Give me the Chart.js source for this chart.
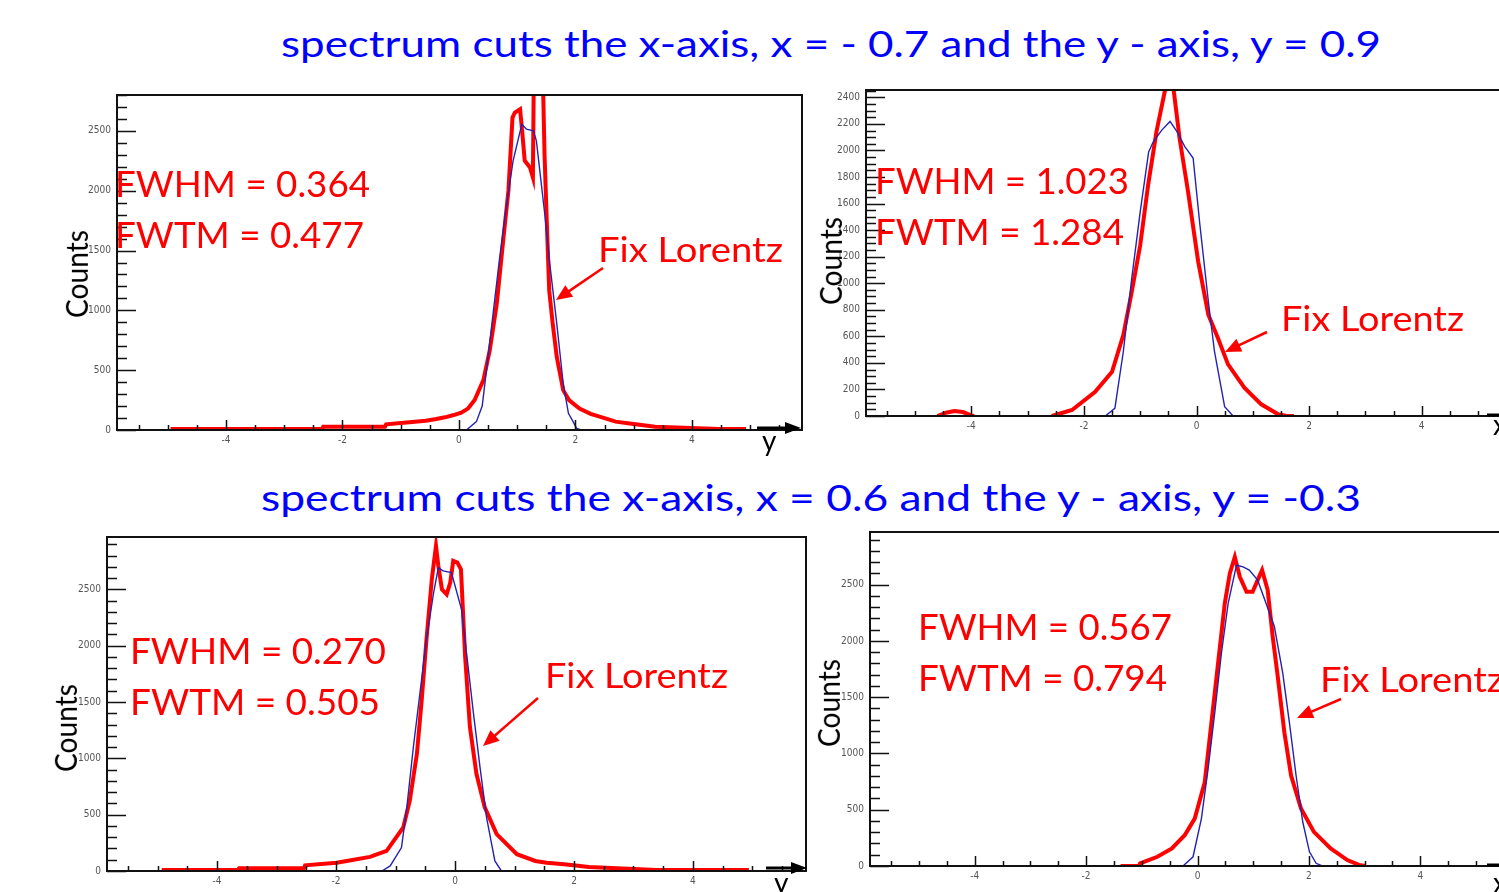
<!DOCTYPE html>
<html><head><meta charset="utf-8">
<script src="https://cdn.jsdelivr.net/npm/chart.js@4.4.1/dist/chart.umd.min.js"></script>
<style>
html,body{margin:0;padding:0;background:#fff;}
body{width:1499px;height:892px;overflow:hidden;position:relative;}
canvas{position:absolute;}
.t{position:absolute;white-space:nowrap;line-height:1;transform-origin:0 0;font-family:Lato,'Open Sans',sans-serif;}
#ov{position:absolute;left:0;top:0;}
</style></head><body>
<svg id="ov" width="1499" height="892" xmlns="http://www.w3.org/2000/svg"></svg>
<script>
// ---------------- DATA ----------------
const title1 = 'spectrum cuts the x-axis, x = - 0.7 and the y - axis, y = 0.9';
const title2 = 'spectrum cuts the x-axis, x =  0.6 and the y - axis, y = -0.3';
const yAxisTitle = 'Counts';
const fitLabel = 'Fix Lorentz';
const p1Notes = ['FWHM = 0.364', 'FWTM = 0.477'];
const p2Notes = ['FWHM = 1.023', 'FWTM = 1.284'];
const p3Notes = ['FWHM = 0.270', 'FWTM = 0.505'];
const p4Notes = ['FWHM = 0.567', 'FWTM = 0.794'];
const xTitles = ['y', 'x', 'y', 'x'];
const xMajorTicks = [-4, -2, 0, 2, 4];

// Panel 1 (top-left)
const p1RedX = [-4.95,-2.35,-2.33,-1.27,-1.25,-0.85,-0.57,-0.39,-0.24,-0.09,0.04,0.16,0.27,0.42,0.53,0.65,0.76,0.85,0.92,0.96,1.05,1.08,1.13,1.22,1.27,1.29,1.43,1.47,1.51,1.55,1.61,1.68,1.79,1.89,2.07,2.26,2.50,2.69,3.00,3.37,4.47,4.93];
const p1RedY = [8,8,27,27,47,64,78,92,106,125,145,181,250,417,667,1056,1583,2000,2611,2653,2681,2528,2250,2194,2111,3200,3200,2300,1722,1167,889,611,333,250,180,135,100,70,50,28,8,8];
const p1BlueX = [-2.33,0.13,0.30,0.40,0.50,0.70,0.82,0.93,1.08,1.16,1.28,1.33,1.48,1.56,1.68,1.79,1.88,1.96,2.02,2.10,4.47];
const p1BlueY = [0,0,70,200,611,1444,1889,2250,2556,2514,2500,2417,1778,1389,889,389,139,70,14,0,0];

// Panel 2 (top-right)
const p2RedX = [-4.60,-4.45,-4.30,-4.15,-4.00,-3.95,-3.30,-2.57,-2.21,-1.80,-1.50,-1.30,-1.15,-1.00,-0.86,-0.71,-0.56,-0.50,-0.41,-0.30,-0.15,0.03,0.21,0.38,0.56,0.85,1.15,1.45,1.60,1.73];
const p2RedY = [0,25,38,30,5,0,null,0,45,183,333,609,935,1286,1737,2143,2451,2550,2470,2090,1689,1163,763,587,389,214,88,13,0,0];
const p2BlueX = [-4.83,-1.62,-1.45,-1.30,-1.15,-1.00,-0.85,-0.77,-0.62,-0.47,-0.35,-0.21,-0.06,0.06,0.21,0.32,0.50,0.65,4.94];
const p2BlueY = [0,0,58,484,1036,1537,1988,2063,2151,2218,2143,2030,1943,1440,864,484,70,0,0];

// Panel 3 (bottom-left)
const p3RedX = [-4.93,-3.65,-3.63,-2.54,-2.52,-1.99,-1.75,-1.43,-1.15,-0.87,-0.76,-0.64,-0.56,-0.48,-0.39,-0.32,-0.28,-0.22,-0.14,-0.08,-0.03,0.04,0.10,0.17,0.25,0.36,0.50,0.70,1.04,1.35,1.54,1.84,2.25,3.39,4.94];
const p3RedY = [8,8,24,24,50,74,95,125,179,387,625,1042,1518,2054,2589,2887,2708,2500,2455,2560,2753,2738,2678,1905,1280,863,565,327,149,89,74,60,36,8,8];
const p3BlueX = [-3.63,-1.23,-1.09,-0.90,-0.81,-0.70,-0.59,-0.48,-0.36,-0.28,-0.20,-0.06,0.11,0.20,0.31,0.42,0.53,0.67,0.78,3.34];
const p3BlueY = [0,0,45,208,565,1101,1577,2054,2470,2693,2664,2649,2321,1905,1399,922,476,89,0,0];

// Panel 4 (bottom-right)
const p4RedX = [-1.38,-1.05,-1.03,-0.72,-0.46,-0.23,-0.05,0.13,0.25,0.37,0.49,0.58,0.67,0.76,0.88,0.99,1.08,1.16,1.26,1.35,1.44,1.56,1.68,1.86,2.09,2.39,2.69,2.90,3.02];
const p4RedY = [0,0,24,82,156,274,421,744,1274,1804,2334,2599,2746,2570,2437,2437,2540,2629,2452,2040,1687,1186,804,509,303,156,53,10,0];
const p4BlueX = [-4.86,-0.26,-0.08,0.07,0.19,0.31,0.43,0.55,0.70,0.82,0.93,1.08,1.23,1.38,1.53,1.65,1.77,1.89,2.01,2.13,2.24,4.96];
const p4BlueY = [0,0,82,421,863,1363,1893,2334,2673,2658,2629,2540,2334,2128,1716,1274,804,391,126,24,0,0];

// ---------------- LAYOUT ----------------
const panels = [
  {box:{l:117,t:95,r:802,b:430}, xMin:-5.87, xMax:5.89, yMax:2800, yMinor:100, yMajor:500,
   redX:p1RedX, redY:p1RedY, blueX:p1BlueX, blueY:p1BlueY},
  {box:{l:866,t:90,r:1527,b:416}, xMin:-5.87, xMax:5.87, yMax:2455, yMinor:50, yMajor:200,
   redX:p2RedX, redY:p2RedY, blueX:p2BlueX, blueY:p2BlueY},
  {box:{l:107,t:537,r:806,b:871}, xMin:-5.85, xMax:5.90, yMax:2965, yMinor:100, yMajor:500,
   redX:p3RedX, redY:p3RedY, blueX:p3BlueX, blueY:p3BlueY},
  {box:{l:870,t:532,r:1525,b:866}, xMin:-5.88, xMax:5.88, yMax:2968, yMinor:100, yMajor:500,
   redX:p4RedX, redY:p4RedY, blueX:p4BlueX, blueY:p4BlueY}
];

const tickFont = {family:"'Liberation Sans Narrow','DejaVu Sans Condensed','Liberation Sans',sans-serif", size:10};

function pts(xs, ys){ return xs.map((x,i)=>({x:x, y:ys[i]})); }

function makePanel(cfg){
  const LP=60, TP=12, RP=12, BP=30;
  const W = cfg.box.r - cfg.box.l + LP + RP, H = cfg.box.b - cfg.box.t + TP + BP;
  const cv = document.createElement('canvas');
  cv.width=W; cv.height=H;
  cv.style.left=(cfg.box.l-LP)+'px'; cv.style.top=(cfg.box.t-TP)+'px';
  cv.style.width=W+'px'; cv.style.height=H+'px';
  document.body.insertBefore(cv, document.getElementById('ov'));
  const frame = {
    id:'frame'+cfg.box.l+cfg.box.t,
    afterDraw(chart){
      const {ctx, chartArea:a, scales:{x, y}} = chart;
      ctx.save();
      ctx.strokeStyle='#111'; ctx.lineWidth=1.5;
      ctx.beginPath();
      y.ticks.forEach(t=>{
        const py = Math.round(y.getPixelForValue(t.value))+0.5;
        const len = (Math.round(t.value) % cfg.yMajor === 0) ? 19 : 10;
        ctx.moveTo(a.left, py); ctx.lineTo(a.left+len, py);
      });
      x.ticks.forEach(t=>{
        const px = Math.round(x.getPixelForValue(t.value))+0.5;
        const k = Math.round(t.value*2);
        const len = (k % 4 === 0) ? 10 : 5;
        ctx.moveTo(px, a.bottom); ctx.lineTo(px, a.bottom-len);
      });
      ctx.stroke();
      ctx.lineWidth=2;
      ctx.strokeRect(a.left, a.top, a.right-a.left, a.bottom-a.top);
      ctx.restore();
    }
  };
  new Chart(cv, {
    type:'line',
    data:{datasets:[
      {data:pts(cfg.blueX,cfg.blueY), borderColor:'#2323b0', borderWidth:1.4, pointRadius:0, tension:0, spanGaps:false, order:0},
      {data:pts(cfg.redX,cfg.redY), borderColor:'#ff0000', borderWidth:4, pointRadius:0, tension:0, spanGaps:false, order:1}
    ]},
    options:{
      responsive:false, animation:false, devicePixelRatio:1,
      layout:{padding:{left:0, top:TP, right:RP, bottom:0}, autoPadding:false},
      plugins:{legend:{display:false}, tooltip:{enabled:false}, title:{display:false}},
      scales:{
        x:{type:'linear', min:cfg.xMin, max:cfg.xMax,
           grid:{display:false, drawTicks:false}, border:{display:false},
           afterBuildTicks:(s)=>{ const arr=[]; for(let k=Math.ceil(cfg.xMin*2); k<=Math.floor(cfg.xMax*2); k++) arr.push({value:k/2}); s.ticks=arr; },
           ticks:{autoSkip:false, maxRotation:0, minRotation:0, padding:4, font:tickFont, color:'#555',
                  callback:(v)=> xMajorTicks.includes(v) ? String(v) : ''},
           afterFit:(s)=>{ s.height=BP; }},
        y:{type:'linear', min:0, max:cfg.yMax,
           grid:{display:false, drawTicks:false}, border:{display:false},
           afterBuildTicks:(s)=>{ const arr=[]; for(let v=0; v<=cfg.yMax; v+=cfg.yMinor) arr.push({value:v}); s.ticks=arr; },
           ticks:{autoSkip:false, padding:6, font:tickFont, color:'#555',
                  callback:(v)=> (Math.round(v) % cfg.yMajor === 0) ? String(v) : ''},
           afterFit:(s)=>{ s.width=LP; }}
      }
    },
    plugins:[frame]
  });
}
panels.forEach(makePanel);

// ---------------- TEXT ----------------
function placeText(txt, o){
  const el=document.createElement('div');
  el.className='t';
  el.style.fontSize=o.size+'px';
  el.style.color=o.color;
  el.textContent=txt;
  const mk=document.createElement('span');
  mk.style.cssText='display:inline-block;width:0;height:0;';
  el.appendChild(mk);
  document.body.appendChild(el);
  const base=mk.offsetTop;
  const w=el.getBoundingClientRect().width;
  const sx=o.width? o.width/w : 1;
  el.style.left=o.left+'px';
  el.style.top=(o.baseline-base)+'px';
  el.style.transform='scaleX('+sx+')';
  return el;
}
function placeVert(txt, o){
  const el=document.createElement('div');
  el.className='t';
  el.style.fontSize=o.size+'px';
  el.style.color=o.color;
  el.textContent=txt;
  document.body.appendChild(el);
  const r=el.getBoundingClientRect();
  const sx=o.length/r.width;
  el.style.left=(o.cx-r.width/2)+'px';
  el.style.top=(o.cy-r.height/2)+'px';
  el.style.transformOrigin='50% 50%';
  el.style.transform='rotate(-90deg) scaleX('+sx+')';
}

const BLUE='#0000ff', RED='#ff0000';
placeText(title1,{left:281,width:1100,baseline:57,size:37,color:BLUE});
placeText(title2,{left:261,width:1100,baseline:511,size:37,color:BLUE});

const noteSpec = [
  {notes:p1Notes, l:115, w:[255,249], b:[197,248], fix:{l:598,w:185,b:262}},
  {notes:p2Notes, l:875, w:[254,249], b:[194,245], fix:{l:1281,w:183,b:331}},
  {notes:p3Notes, l:130, w:[256,250], b:[664,715], fix:{l:545,w:183,b:688}},
  {notes:p4Notes, l:918, w:[254,249], b:[640,691], fix:{l:1320,w:184,b:692}}
];
noteSpec.forEach(s=>{
  s.notes.forEach((n,i)=>placeText(n,{left:s.l,width:s.w[i],baseline:s.b[i],size:36,color:RED}));
  placeText(fitLabel,{left:s.fix.l,width:s.fix.w,baseline:s.fix.b,size:35,color:RED});
});

[{cx:76,cy:274},{cx:830,cy:261},{cx:65,cy:728},{cx:828,cy:703}].forEach(c=>
  placeVert(yAxisTitle,{cx:c.cx,cy:c.cy,size:30,length:88,color:'#000'}));

[{l:762,b:451},{l:1493,b:435},{l:774,b:893},{l:1493,b:893}].forEach((p,i)=>
  placeText(xTitles[i],{left:p.l,baseline:p.b,size:28,color:'#000'}));

// ---------------- ARROWS ----------------
const svg=document.getElementById('ov');
document.body.appendChild(svg);
const NS='http://www.w3.org/2000/svg';
function arrow(x1,y1,x2,y2,color,w,hl,hw){
  const dx=x2-x1, dy=y2-y1, L=Math.hypot(dx,dy), ux=dx/L, uy=dy/L;
  const bx=x2-ux*hl, by=y2-uy*hl;
  const ln=document.createElementNS(NS,'line');
  ln.setAttribute('x1',x1); ln.setAttribute('y1',y1); ln.setAttribute('x2',bx+ux*2); ln.setAttribute('y2',by+uy*2);
  ln.setAttribute('stroke',color); ln.setAttribute('stroke-width',w);
  svg.appendChild(ln);
  const pg=document.createElementNS(NS,'polygon');
  pg.setAttribute('points',[x2,y2, bx-uy*hw,by+ux*hw, bx+uy*hw,by-ux*hw].join(' '));
  pg.setAttribute('fill',color);
  svg.appendChild(pg);
}
arrow(603,268,556,300,RED,2.5,16,7);
arrow(1267,332,1225,352,RED,2.5,16,7);
arrow(538,698,483,746,RED,2.5,16,7);
arrow(1341,699,1297,718,RED,2.5,16,7);
arrow(757,428,801,428,'#000',3,16,6);
arrow(1487,415,1531,415,'#000',3,16,6);
arrow(766,868,807,868,'#000',3,16,6);
arrow(1487,865,1531,865,'#000',3,16,6);
</script>
</body></html>
